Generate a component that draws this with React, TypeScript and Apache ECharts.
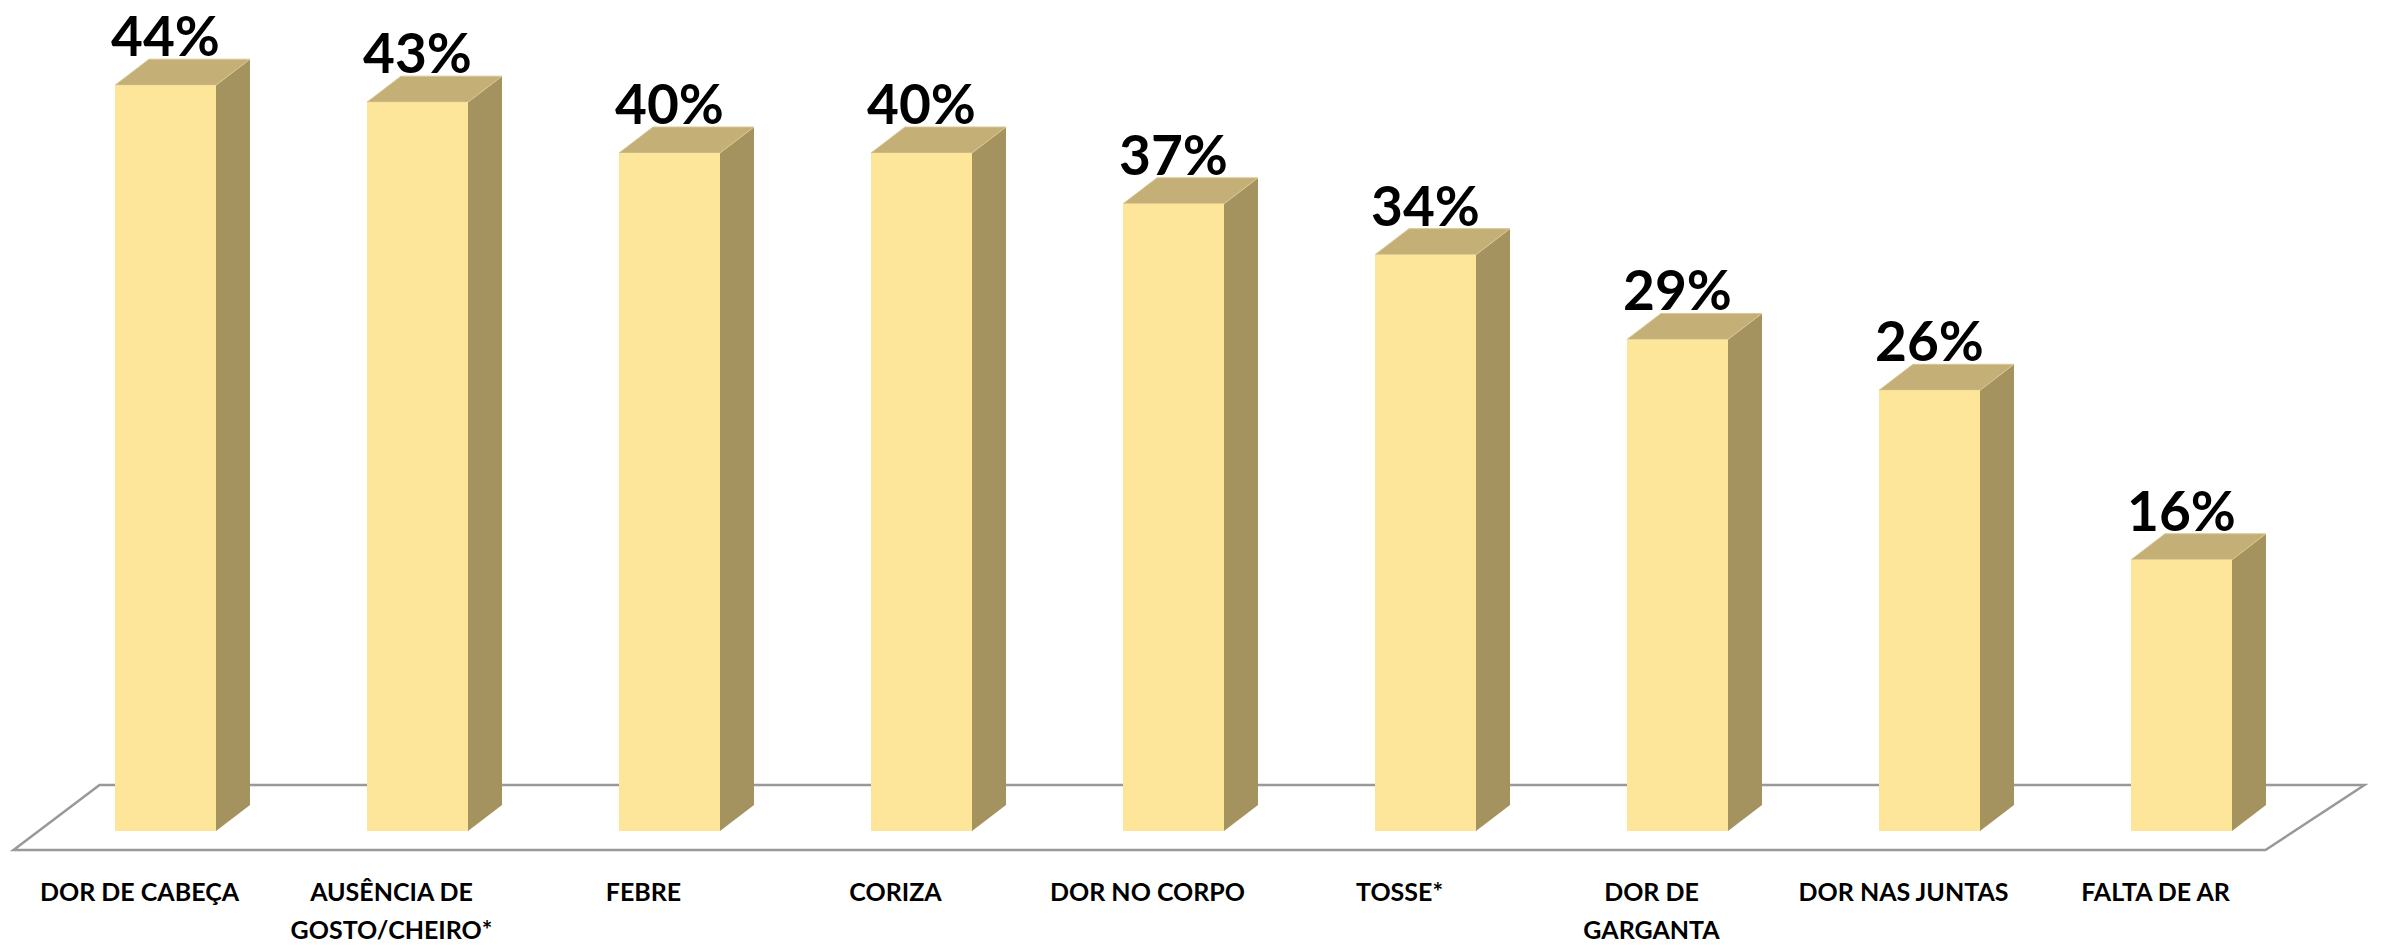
import React, { useEffect, useRef } from "react";
import * as echarts from "echarts";

const categories = [
  "DOR DE CABEÇA",
  "AUSÊNCIA DE\nGOSTO/CHEIRO*",
  "FEBRE",
  "CORIZA",
  "DOR NO CORPO",
  "TOSSE*",
  "DOR DE\nGARGANTA",
  "DOR NAS JUNTAS",
  "FALTA DE AR",
];
const values = [44, 43, 40, 40, 37, 34, 29, 26, 16];

const FRONT = "#FDE69A";
const TOP = "#C4AF76";
const SIDE = "#A4935F";
const FONT = "Lato, 'Noto Sans', sans-serif";

export default function App() {
  const ref = useRef<HTMLDivElement>(null);
  useEffect(() => {
    document.body.style.margin = "0";
    const chart = echarts.init(ref.current!, null, { renderer: "svg" });
    const W = 101;
    const DX = 34;
    const DY = 26;
    const OFF = -24.5;
    chart.setOption({
      animation: false,
      backgroundColor: "#ffffff",
      grid: { left: 13.5, right: 102.5, top: 17.4, bottom: 95 },
      xAxis: {
        type: "category",
        data: categories,
        axisLine: { show: false },
        axisTick: { show: false },
        splitLine: { show: false },
        axisLabel: {
          interval: 0,
          color: "#000",
          fontWeight: "bold",
          fontFamily: FONT,
          fontSize: 25,
          lineHeight: 38,
          margin: 41,
        },
      },
      yAxis: {
        type: "value",
        min: 0,
        max: 48,
        show: false,
        splitLine: { show: false },
      },
      series: [
        {
          type: "custom",
          z: 1,
          data: [[0, 0]],
          renderItem: (params: any, api: any) => {
            const cs = params.coordSys;
            const xl = cs.x;
            const xr = cs.x + cs.width - 16;
            const yf = cs.y + cs.height + 19;
            const by = -65;
            return {
              type: "polygon",
              shape: {
                points: [
                  [xl, yf],
                  [xr, yf],
                  [xr + 99, yf + by],
                  [xl + 86, yf + by],
                ],
              },
              style: { fill: "none", stroke: "#999999", lineWidth: 2.5 },
            };
          },
        },
        {
          type: "custom",
          z: 2,
          data: values.map((v, i) => [i, v]),
          renderItem: (params: any, api: any) => {
            const i = api.value(0);
            const v = api.value(1);
            const pt = api.coord([i, v]);
            const base = api.coord([i, 0]);
            const L = pt[0] + OFF;
            const top = pt[1];
            const bot = base[1];
            return {
              type: "group",
              children: [
                {
                  type: "polygon",
                  shape: {
                    points: [
                      [L + W, top],
                      [L + W + DX, top - DY],
                      [L + W + DX, bot - DY],
                      [L + W, bot],
                    ],
                  },
                  style: { fill: SIDE },
                },
                {
                  type: "polygon",
                  shape: {
                    points: [
                      [L, top],
                      [L + DX, top - DY],
                      [L + W + DX, top - DY],
                      [L + W, top],
                    ],
                  },
                  style: { fill: TOP, stroke: "#D8C792", lineWidth: 1 },
                },
                {
                  type: "rect",
                  shape: { x: L, y: top, width: W, height: bot - top },
                  style: { fill: FRONT },
                },
                {
                  type: "text",
                  x: L + W / 2,
                  y: top - DY + 1,
                  style: {
                    text: v + "%",
                    fill: "#000",
                    fontFamily: FONT,
                    fontWeight: "bold",
                    fontSize: 55,
                    lineHeight: 50,
                    align: "center",
                    verticalAlign: "bottom",
                  },
                },
              ],
            };
          },
        },
      ],
    });
    return () => chart.dispose();
  }, []);
  return <div ref={ref} style={{ width: 2384, height: 948 }} />;
}
